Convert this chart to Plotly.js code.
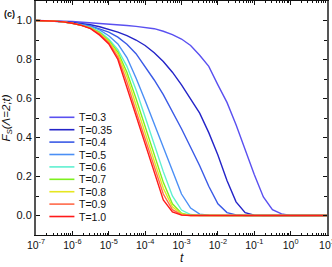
<!DOCTYPE html>
<html>
<head>
<meta charset="utf-8">
<script src="https://cdn.plot.ly/plotly-3.0.1.min.js"></script>
<style>html,body{margin:0;padding:0;background:#fff;}#chart{width:332px;height:267px;}</style>
</head>
<body>
<div id="chart"></div>
<script>
// time values (log-spaced)
const tValues = [1e-7,1.78e-7,3.16e-7,5.62e-7, 1e-6,1.78e-6,3.16e-6,5.62e-6, 1e-5,1.78e-5,3.16e-5,5.62e-5,
  1e-4,1.78e-4,3.16e-4,5.62e-4, 1e-3,1.78e-3,3.16e-3,5.62e-3, 1e-2,1.78e-2,3.16e-2,5.62e-2,
  0.1,0.178,0.316,0.562, 1,1.78,3.16,5.62,10];

const seriesNames = ["T=0.3","T=0.35","T=0.4","T=0.5","T=0.6","T=0.7","T=0.8","T=0.9","T=1.0"];

const fsT030 = [1.0,1.0,0.999,0.997,0.995,0.992,0.988,0.984,0.98,0.977,0.974,0.970,0.965,0.958,0.945,0.928,0.905,0.872,0.822,0.765,0.67,0.58,0.465,0.335,0.21,0.095,0.03,0.008,0,0,0,0,0];
const fsT035 = [1.0,0.999,0.997,0.994,0.99,0.985,0.978,0.968,0.955,0.94,0.922,0.90,0.872,0.835,0.79,0.735,0.67,0.6,0.525,0.425,0.31,0.18,0.07,0.015,0.002,0,0,0,0,0,0,0,0];
const fsT040 = [1.0,0.999,0.996,0.992,0.987,0.98,0.972,0.958,0.94,0.915,0.878,0.83,0.765,0.695,0.62,0.535,0.445,0.35,0.255,0.15,0.06,0.015,0.003,0,0,0,0,0,0,0,0,0,0];
const fsT050 = [1.0,0.999,0.997,0.993,0.987,0.979,0.97,0.952,0.922,0.88,0.81,0.705,0.59,0.47,0.345,0.225,0.11,0.038,0.007,0.001,0,0,0,0,0,0,0,0,0,0,0,0,0];
const fsT060 = [1.0,0.999,0.997,0.993,0.986,0.976,0.964,0.943,0.905,0.85,0.765,0.645,0.505,0.365,0.225,0.1,0.028,0.005,0,0,0,0,0,0,0,0,0,0,0,0,0,0,0];
const fsT070 = [1.0,0.999,0.997,0.993,0.986,0.975,0.962,0.938,0.898,0.838,0.735,0.6,0.455,0.31,0.17,0.06,0.012,0.001,0,0,0,0,0,0,0,0,0,0,0,0,0,0,0];
const fsT080 = [1.0,0.999,0.997,0.993,0.986,0.975,0.961,0.934,0.893,0.828,0.712,0.567,0.42,0.28,0.14,0.045,0.008,0,0,0,0,0,0,0,0,0,0,0,0,0,0,0,0];
const fsT090 = [1.0,0.999,0.997,0.993,0.986,0.975,0.96,0.93,0.886,0.812,0.683,0.535,0.39,0.25,0.11,0.03,0.004,0,0,0,0,0,0,0,0,0,0,0,0,0,0,0,0];
const fsT100 = [1.0,0.999,0.997,0.993,0.986,0.975,0.958,0.925,0.88,0.80,0.655,0.505,0.36,0.22,0.08,0.018,0.002,0,0,0,0,0,0,0,0,0,0,0,0,0,0,0,0];

const seriesValues = [fsT030,fsT035,fsT040,fsT050,fsT060,fsT070,fsT080,fsT090,fsT100];
const lineColors = ["#5a50f0","#2424c8","#3a5ae6","#4b8ff5","#5ff0d0","#7ef01e","#e6e620","#ff6a4a","#ff1a1a"];

const xTickVals = [1e-7,1e-6,1e-5,1e-4,1e-3,1e-2,1e-1,1,10];
const xTickText = ["10<sup>-7</sup>","10<sup>-6</sup>","10<sup>-5</sup>","10<sup>-4</sup>","10<sup>-3</sup>","10<sup>-2</sup>","10<sup>-1</sup>","10<sup>0</sup>","10<sup>1</sup>"];
const yTickVals = [0,0.2,0.4,0.6,0.8,1.0];
const yTickText = ["0.0","0.2","0.4","0.6","0.8","1.0"];

const traces = seriesValues.map((v,i)=>({
  x: tValues, y: v, type:'scatter', mode:'lines', name: seriesNames[i],
  line:{color: lineColors[i], width:1.4}, showlegend:false
}));

// manual compact legend
const shapes = [];
const annotations = [];
const legTop = 0.503, legStep = 0.053;
seriesNames.forEach((n,i)=>{
  const yy = legTop - i*legStep;
  shapes.push({type:'line', xref:'paper', yref:'paper', x0:0.046, x1:0.132, y0:yy, y1:yy,
    line:{color: lineColors[i], width:1.6}});
  annotations.push({xref:'paper', yref:'paper', x:0.142, y:yy, text:n, showarrow:false,
    xanchor:'left', yanchor:'middle', font:{size:10.5, color:'#111', family:'Liberation Sans, Arial, sans-serif'}});
});
annotations.push({xref:'paper', yref:'paper', x:-0.118, y:0.945, text:'<b>(c)</b>', showarrow:false,
  xanchor:'left', yanchor:'middle', font:{size:9, color:'#111', family:'Liberation Sans, Arial, sans-serif'}});
annotations.push({xref:'paper', yref:'paper', x:0.5, y:-0.1, text:'<i>t</i>', showarrow:false,
  xanchor:'center', yanchor:'middle', font:{size:12, color:'#111', family:'Liberation Sans, Arial, sans-serif'}});

const layout = {
  width:332, height:267,
  margin:{l:35.5, r:5, t:1, b:32},
  paper_bgcolor:'#fff', plot_bgcolor:'#fff',
  font:{family:'Liberation Sans, Arial, sans-serif', size:11, color:'#111'},
  xaxis:{
    type:'log', range:[-7,1], tickvals:xTickVals, ticktext:xTickText,
    ticklabeloverflow:'allow',
    showgrid:false, zeroline:false,
    showline:true, linecolor:'#111', linewidth:1.3, mirror:'allticks',
    ticks:'inside', ticklen:4, tickwidth:1, tickcolor:'#111',
    minor:{ticks:'inside', ticklen:2, tickwidth:1, tickcolor:'#111', dtick:'D1', showgrid:false},
    tickfont:{size:10.5}
  },
  yaxis:{
    range:[-0.1,1.1], tickvals:yTickVals, ticktext:yTickText,
    showgrid:false, zeroline:false,
    showline:true, linecolor:'#555', linewidth:2, mirror:'allticks',
    ticks:'inside', ticklen:4, tickwidth:1, tickcolor:'#111',
    minor:{ticks:'inside', ticklen:3, tickwidth:1, tickcolor:'#111', dtick:0.1, tick0:0.1, showgrid:false},
    tickfont:{size:11},
    title:{text:'<i>F<sub>S</sub>(Λ=2;t)</i>', font:{size:11.5}, standoff:4}
  },
  shapes: shapes,
  annotations: annotations,
  showlegend:false
};

Plotly.newPlot('chart', traces, layout, {displayModeBar:false, staticPlot:true});
</script>
</body>
</html>
